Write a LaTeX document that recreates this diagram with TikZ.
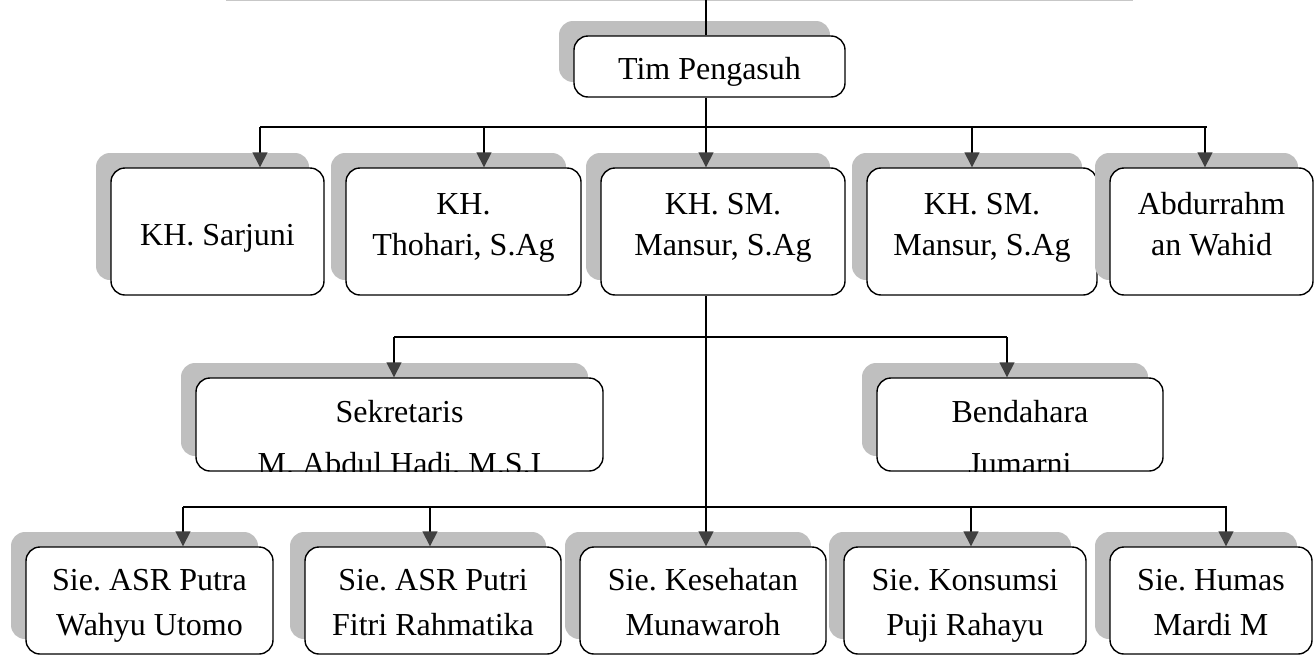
\documentclass[tikz,border=0pt]{standalone}
\usepackage{fontspec}
\setmainfont{Liberation Serif}
\usetikzlibrary{arrows.meta,calc}
% #1 name, #2 cx, #3 cy, #4 width, #5 height, #6 line 1, #7 its baseline below top,
% #8 line 2, #9 its baseline below top
\newcommand\orgbox[9]{%
  \fill[shadowfill] ({#2-#4/2-15},{#3-#5/2-15}) rectangle ++(#4,#5);
  \node[box, minimum width=#4pt, minimum height=#5pt, path picture={
      \node[txt, anchor=base] at ([yshift=-#7pt]path picture bounding box.north) {#6};
      \node[txt, anchor=base] at ([yshift=-#9pt]path picture bounding box.north) {#8};
    }] (#1) at (#2,#3) {};
}
\begin{document}
\frenchspacing
\begin{tikzpicture}[x=1pt,y=-1pt,
  txt/.style={font=\fontsize{32}{41}\selectfont, inner sep=0pt},
  box/.style={draw=black, line width=1.4pt, rounded corners=14pt, fill=white,
    rectangle, inner sep=0pt},
  shadowfill/.style={fill=black!25, rounded corners=14pt},
  conn/.style={line width=1.5pt, black},
  arr/.style={conn, -{Triangle[width=15pt,length=15pt,color=black!75]}},
  topline/.style={black!22, line width=1.2pt}
]
\useasboundingbox (0,0) rectangle (1315,656);

% faint line at the very top
\coordinate (g1) at (226,0.6);
\coordinate (g2) at (1133,0.6);
\draw[topline] (g1) -- (g2);

% main vertical line coordinate
\coordinate (top) at (706,0);

% top box
\orgbox{tim}{709.5}{66.5}{271}{61}{Tim Pengasuh}{43}{}{0}

% row 1
\orgbox{r1a}{217.5}{231.5}{213}{127}{KH. Sarjuni}{77}{}{0}
\orgbox{r1b}{463.5}{231.5}{235}{127}{KH.}{46}{Thohari, S.Ag}{87}
\orgbox{r1c}{723}{231.5}{244}{127}{KH. SM.}{46}{Mansur, S.Ag}{87}
\orgbox{r1d}{982}{231.5}{230}{127}{KH. SM.}{46}{Mansur, S.Ag}{87}
\orgbox{r1e}{1211.5}{231.5}{203}{127}{Abdurrahm}{46}{an Wahid}{87}

% row 2 (second line overflows and is cut by the box)
\orgbox{sek}{399.5}{424.5}{407}{93}{Sekretaris}{44}{M. Abdul Hadi, M.S.I}{96}
\orgbox{ben}{1020}{424.5}{286}{93}{Bendahara}{44}{Jumarni}{96}

% row 3
\orgbox{r3a}{149.5}{600.5}{247}{107}{Sie. ASR Putra}{43}{Wahyu Utomo}{88}
\orgbox{r3b}{433}{600.5}{256}{107}{Sie. ASR Putri}{43}{Fitri Rahmatika}{88}
\orgbox{r3c}{703}{600.5}{246}{107}{Sie. Kesehatan}{43}{Munawaroh}{88}
\orgbox{r3d}{965}{600.5}{242}{107}{Sie. Konsumsi}{43}{Puji Rahayu}{88}
\orgbox{r3e}{1211}{600.5}{202}{107}{Sie. Humas}{43}{Mardi M}{88}

% main spine
\draw[conn] (top) -- (top |- tim.north);
\draw[arr] (top |- tim.south) -- (top |- r1c.north);
\draw[arr] (top |- r1c.south) -- (top |- r3c.north);

% row 1 bus
\coordinate (a11) at (260,127);
\coordinate (a12) at (484,127);
\coordinate (a14) at (972,127);
\coordinate (a15) at (1205,127);
\draw[conn] (a11) -- ([xshift=2pt]a15);
\draw[arr] (a11) -- (a11 |- r1a.north);
\draw[arr] (a12) -- (a12 |- r1b.north);
\draw[arr] (a14) -- (a14 |- r1d.north);
\draw[arr] (a15) -- (a15 |- r1e.north);

% row 2 bus
\coordinate (a21) at (394,337);
\coordinate (a22) at (1007,337);
\draw[conn] (a21) -- (a22);
\draw[arr] (a21) -- (a21 |- sek.north);
\draw[arr] (a22) -- (a22 |- ben.north);

% row 3 bus
\coordinate (a31) at (183,507);
\coordinate (a32) at (430,507);
\coordinate (a34) at (971,507);
\coordinate (a35) at (1226,507);
\draw[conn] (a31) -- ([xshift=1pt]a35);
\draw[arr] (a31) -- (a31 |- r3a.north);
\draw[arr] (a32) -- (a32 |- r3b.north);
\draw[arr] (a34) -- (a34 |- r3d.north);
\draw[arr] (a35) -- (a35 |- r3e.north);
\end{tikzpicture}
\end{document}
